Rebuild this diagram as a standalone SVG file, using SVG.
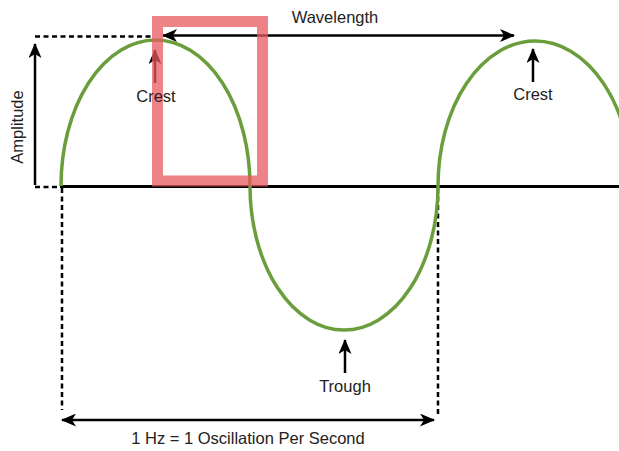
<svg xmlns="http://www.w3.org/2000/svg" width="619" height="451" viewBox="0 0 619 451">
<style>
text{font-family:"Liberation Sans",Arial,sans-serif;font-size:16.5px;fill:#222;}
.arr{stroke:#000;stroke-width:2.5;fill:none;}
.dot{stroke:#000;stroke-width:2.5;fill:none;stroke-dasharray:5 3.5;}
</style>
<defs>
<marker id="ah" viewBox="0 0 15 13" refX="14" refY="6.5" markerWidth="15" markerHeight="13" markerUnits="userSpaceOnUse" orient="auto-start-reverse">
<path d="M0,0 L15,6.5 L0,13 L4,6.5 Z" fill="#000"/>
</marker>
</defs>
<g id="guides">
<line class="dot" x1="35" y1="36.5" x2="153" y2="36.5"/>
<line class="dot" x1="35" y1="187" x2="60" y2="187"/>
<line class="dot" x1="62" y1="188" x2="62" y2="410"/>
<line class="dot" x1="438" y1="188" x2="438" y2="415"/>
</g>
<g id="baseline">
<line x1="60" y1="186.5" x2="619" y2="186.5" stroke="#000" stroke-width="3"/>
</g>
<g id="wave">
<path d="M 61 186 A 94.5 146 0 0 1 250 186 A 94 144 0 0 0 438 186 A 97 145 0 0 1 632 186" fill="none" stroke="#6a9e3c" stroke-width="3.5"/>
</g>
<g id="connectors">
<line class="arr" x1="35" y1="185" x2="35" y2="44" marker-end="url(#ah)"/>
<line class="arr" x1="163" y1="35.5" x2="514" y2="35.5" marker-start="url(#ah)" marker-end="url(#ah)"/>
<line class="arr" x1="155" y1="83" x2="155" y2="50" marker-end="url(#ah)"/>
<line class="arr" x1="533" y1="82" x2="533" y2="49" marker-end="url(#ah)"/>
<line class="arr" x1="345" y1="373" x2="345" y2="340" marker-end="url(#ah)"/>
<line class="arr" x1="62" y1="420" x2="434" y2="420" marker-start="url(#ah)" marker-end="url(#ah)"/>
</g>
<g id="highlight">
<rect x="157.5" y="21.5" width="105" height="159.5" fill="none" stroke="#e85a5f" stroke-opacity="0.75" stroke-width="11"/>
</g>
<g id="labels">
<text x="335" y="23" text-anchor="middle">Wavelength</text>
<text x="156" y="102" text-anchor="middle">Crest</text>
<text x="533" y="100" text-anchor="middle">Crest</text>
<text x="345" y="392" text-anchor="middle">Trough</text>
<text x="248" y="444" text-anchor="middle">1 Hz = 1 Oscillation Per Second</text>
<text transform="translate(23 127) rotate(-90)" text-anchor="middle">Amplitude</text>
</g>
</svg>
